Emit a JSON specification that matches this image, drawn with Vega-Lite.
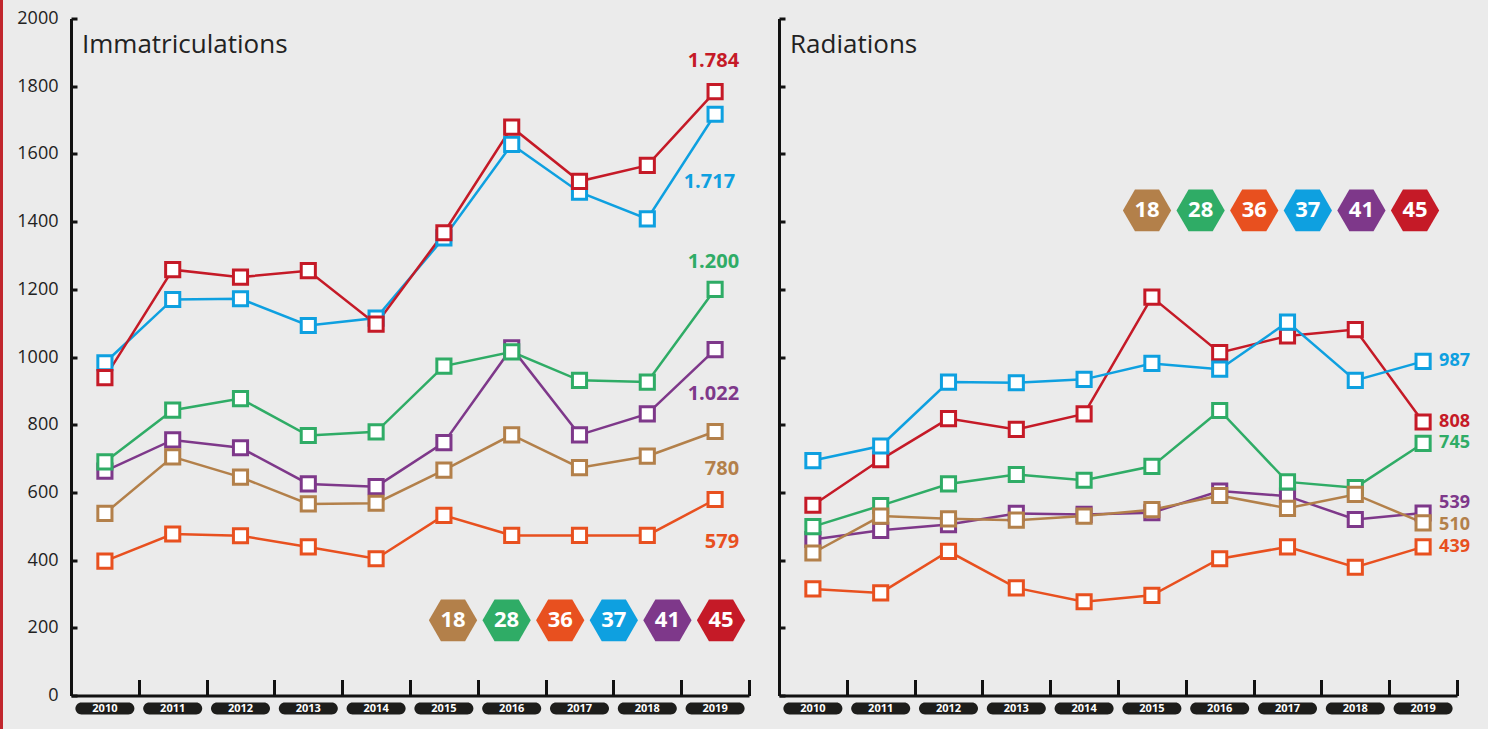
{
  "$schema": "https://vega.github.io/schema/vega-lite/v6.json",
  "background": "#ebebeb",
  "padding": {"left": 0, "top": 0, "right": 24, "bottom": 0},
  "config": {
    "view": {"stroke": null},
    "axis": {"grid": false},
    "locale": {"number": {"decimal": ",", "thousands": ".", "grouping": [3], "currency": ["", " €"]}}
  },
  "datasets": {
    "legend": [{"dept": "18"}, {"dept": "28"}, {"dept": "36"}, {"dept": "37"}, {"dept": "41"}, {"dept": "45"}],
    "rows": [
      {"panel": "I", "dept": "41", "year": "2010", "value": 663}, {"panel": "I", "dept": "41", "year": "2011", "value": 755}, {"panel": "I", "dept": "41", "year": "2012", "value": 732}, {"panel": "I", "dept": "41", "year": "2013", "value": 625}, {"panel": "I", "dept": "41", "year": "2014", "value": 617}, {"panel": "I", "dept": "41", "year": "2015", "value": 747}, {"panel": "I", "dept": "41", "year": "2016", "value": 1027}, {"panel": "I", "dept": "41", "year": "2017", "value": 770}, {"panel": "I", "dept": "41", "year": "2018", "value": 832}, {"panel": "I", "dept": "41", "year": "2019", "value": 1022},
      {"panel": "I", "dept": "28", "year": "2010", "value": 690}, {"panel": "I", "dept": "28", "year": "2011", "value": 843}, {"panel": "I", "dept": "28", "year": "2012", "value": 877}, {"panel": "I", "dept": "28", "year": "2013", "value": 768}, {"panel": "I", "dept": "28", "year": "2014", "value": 779}, {"panel": "I", "dept": "28", "year": "2015", "value": 973}, {"panel": "I", "dept": "28", "year": "2016", "value": 1015}, {"panel": "I", "dept": "28", "year": "2017", "value": 931}, {"panel": "I", "dept": "28", "year": "2018", "value": 926}, {"panel": "I", "dept": "28", "year": "2019", "value": 1200},
      {"panel": "I", "dept": "18", "year": "2010", "value": 538}, {"panel": "I", "dept": "18", "year": "2011", "value": 705}, {"panel": "I", "dept": "18", "year": "2012", "value": 645}, {"panel": "I", "dept": "18", "year": "2013", "value": 566}, {"panel": "I", "dept": "18", "year": "2014", "value": 568}, {"panel": "I", "dept": "18", "year": "2015", "value": 666}, {"panel": "I", "dept": "18", "year": "2016", "value": 770}, {"panel": "I", "dept": "18", "year": "2017", "value": 673}, {"panel": "I", "dept": "18", "year": "2018", "value": 707}, {"panel": "I", "dept": "18", "year": "2019", "value": 780},
      {"panel": "I", "dept": "36", "year": "2010", "value": 397}, {"panel": "I", "dept": "36", "year": "2011", "value": 477}, {"panel": "I", "dept": "36", "year": "2012", "value": 472}, {"panel": "I", "dept": "36", "year": "2013", "value": 439}, {"panel": "I", "dept": "36", "year": "2014", "value": 404}, {"panel": "I", "dept": "36", "year": "2015", "value": 532}, {"panel": "I", "dept": "36", "year": "2016", "value": 473}, {"panel": "I", "dept": "36", "year": "2017", "value": 473}, {"panel": "I", "dept": "36", "year": "2018", "value": 473}, {"panel": "I", "dept": "36", "year": "2019", "value": 579},
      {"panel": "I", "dept": "37", "year": "2010", "value": 983}, {"panel": "I", "dept": "37", "year": "2011", "value": 1170}, {"panel": "I", "dept": "37", "year": "2012", "value": 1172}, {"panel": "I", "dept": "37", "year": "2013", "value": 1093}, {"panel": "I", "dept": "37", "year": "2014", "value": 1115}, {"panel": "I", "dept": "37", "year": "2015", "value": 1352}, {"panel": "I", "dept": "37", "year": "2016", "value": 1628}, {"panel": "I", "dept": "37", "year": "2017", "value": 1487}, {"panel": "I", "dept": "37", "year": "2018", "value": 1408}, {"panel": "I", "dept": "37", "year": "2019", "value": 1717},
      {"panel": "I", "dept": "45", "year": "2010", "value": 939}, {"panel": "I", "dept": "45", "year": "2011", "value": 1258}, {"panel": "I", "dept": "45", "year": "2012", "value": 1236}, {"panel": "I", "dept": "45", "year": "2013", "value": 1255}, {"panel": "I", "dept": "45", "year": "2014", "value": 1097}, {"panel": "I", "dept": "45", "year": "2015", "value": 1367}, {"panel": "I", "dept": "45", "year": "2016", "value": 1679}, {"panel": "I", "dept": "45", "year": "2017", "value": 1519}, {"panel": "I", "dept": "45", "year": "2018", "value": 1566}, {"panel": "I", "dept": "45", "year": "2019", "value": 1784},
      {"panel": "R", "dept": "41", "year": "2010", "value": 461}, {"panel": "R", "dept": "41", "year": "2011", "value": 488}, {"panel": "R", "dept": "41", "year": "2012", "value": 505}, {"panel": "R", "dept": "41", "year": "2013", "value": 538}, {"panel": "R", "dept": "41", "year": "2014", "value": 535}, {"panel": "R", "dept": "41", "year": "2015", "value": 540}, {"panel": "R", "dept": "41", "year": "2016", "value": 604}, {"panel": "R", "dept": "41", "year": "2017", "value": 589}, {"panel": "R", "dept": "41", "year": "2018", "value": 520}, {"panel": "R", "dept": "41", "year": "2019", "value": 539},
      {"panel": "R", "dept": "28", "year": "2010", "value": 499}, {"panel": "R", "dept": "28", "year": "2011", "value": 561}, {"panel": "R", "dept": "28", "year": "2012", "value": 625}, {"panel": "R", "dept": "28", "year": "2013", "value": 653}, {"panel": "R", "dept": "28", "year": "2014", "value": 636}, {"panel": "R", "dept": "28", "year": "2015", "value": 677}, {"panel": "R", "dept": "28", "year": "2016", "value": 842}, {"panel": "R", "dept": "28", "year": "2017", "value": 631}, {"panel": "R", "dept": "28", "year": "2018", "value": 614}, {"panel": "R", "dept": "28", "year": "2019", "value": 745},
      {"panel": "R", "dept": "18", "year": "2010", "value": 421}, {"panel": "R", "dept": "18", "year": "2011", "value": 530}, {"panel": "R", "dept": "18", "year": "2012", "value": 522}, {"panel": "R", "dept": "18", "year": "2013", "value": 518}, {"panel": "R", "dept": "18", "year": "2014", "value": 530}, {"panel": "R", "dept": "18", "year": "2015", "value": 549}, {"panel": "R", "dept": "18", "year": "2016", "value": 591}, {"panel": "R", "dept": "18", "year": "2017", "value": 553}, {"panel": "R", "dept": "18", "year": "2018", "value": 594}, {"panel": "R", "dept": "18", "year": "2019", "value": 510},
      {"panel": "R", "dept": "36", "year": "2010", "value": 315}, {"panel": "R", "dept": "36", "year": "2011", "value": 303}, {"panel": "R", "dept": "36", "year": "2012", "value": 426}, {"panel": "R", "dept": "36", "year": "2013", "value": 318}, {"panel": "R", "dept": "36", "year": "2014", "value": 277}, {"panel": "R", "dept": "36", "year": "2015", "value": 296}, {"panel": "R", "dept": "36", "year": "2016", "value": 404}, {"panel": "R", "dept": "36", "year": "2017", "value": 439}, {"panel": "R", "dept": "36", "year": "2018", "value": 379}, {"panel": "R", "dept": "36", "year": "2019", "value": 439},
      {"panel": "R", "dept": "45", "year": "2010", "value": 562}, {"panel": "R", "dept": "45", "year": "2011", "value": 697}, {"panel": "R", "dept": "45", "year": "2012", "value": 818}, {"panel": "R", "dept": "45", "year": "2013", "value": 786}, {"panel": "R", "dept": "45", "year": "2014", "value": 832}, {"panel": "R", "dept": "45", "year": "2015", "value": 1177}, {"panel": "R", "dept": "45", "year": "2016", "value": 1013}, {"panel": "R", "dept": "45", "year": "2017", "value": 1062}, {"panel": "R", "dept": "45", "year": "2018", "value": 1081}, {"panel": "R", "dept": "45", "year": "2019", "value": 808},
      {"panel": "R", "dept": "37", "year": "2010", "value": 694}, {"panel": "R", "dept": "37", "year": "2011", "value": 737}, {"panel": "R", "dept": "37", "year": "2012", "value": 926}, {"panel": "R", "dept": "37", "year": "2013", "value": 924}, {"panel": "R", "dept": "37", "year": "2014", "value": 934}, {"panel": "R", "dept": "37", "year": "2015", "value": 981}, {"panel": "R", "dept": "37", "year": "2016", "value": 964}, {"panel": "R", "dept": "37", "year": "2017", "value": 1103}, {"panel": "R", "dept": "37", "year": "2018", "value": 931}, {"panel": "R", "dept": "37", "year": "2019", "value": 987}
    ]
  },
  "spacing": 13,
  "center": true,
  "hconcat": [
    {
      "width": 3,
      "height": 733,
      "view": {"fill": "#c1262d", "stroke": null},
      "data": {"values": [{}]},
      "mark": {"type": "rect", "color": "#c1262d"}
    },
    {
      "spacing": 26,
      "hconcat": [
        {
          "width": 678,
          "height": 677,
          "title": {"text": "Immatriculations", "anchor": "start", "frame": "group", "dx": 11, "offset": -48, "fontSize": 26, "font": "Open Sans", "fontWeight": "normal", "color": "#222222"},
          "resolve": {"scale": {"x": "independent"}},
          "layer": [
            {
              "data": {"name": "rows"},
              "transform": [{"filter": "datum.panel === 'I'"}],
              "encoding": {
                "x": {"field": "year", "type": "ordinal", "scale": {"type": "band", "paddingInner": 0, "paddingOuter": 0},
                  "axis": {"title": null, "labels": false, "domainColor": "#111111", "domainWidth": 3, "tickColor": "#111111", "tickWidth": 3, "tickSize": -16, "tickBand": "extent", "grid": false}},
                "y": {"field": "value", "type": "quantitative", "scale": {"domain": [0, 2000], "nice": false, "zero": true},
                  "axis": {"title": null, "values": [0, 200, 400, 600, 800, 1000, 1200, 1400, 1600, 1800, 2000], "format": "d", "domainColor": "#111111", "domainWidth": 3, "tickColor": "#111111", "tickWidth": 3, "tickSize": -6, "labelFont": "Open Sans", "labelFontSize": 18, "labelColor": "#222222", "labelPadding": 19, "grid": false}},
                "color": {"field": "dept", "type": "nominal", "scale": {"domain": ["18", "28", "36", "37", "41", "45"], "range": ["#b3804a", "#2fac66", "#e8501f", "#0ea0e0", "#7e388a", "#c51a27"]}, "legend": null}
              },
              "layer": [
                {"mark": {"type": "line", "strokeWidth": 2.5}},
                {"mark": {"type": "point", "shape": "square", "filled": false, "fill": "white", "fillOpacity": 1, "opacity": 1, "size": 200, "strokeWidth": 3}},
                {
                  "transform": [{"filter": "datum.dept === '18'"}],
                  "mark": {"type": "bar", "cornerRadius": 6, "width": {"band": 0.87}},
                  "encoding": {"y": {"datum": -20.7}, "y2": {"datum": -56.1}, "color": {"value": "#1d1d1b"}}
                },
                {
                  "transform": [{"filter": "datum.dept === '18'"}],
                  "mark": {"type": "text", "font": "Open Sans", "fontWeight": "bold", "fontSize": 11, "baseline": "middle", "align": "center"},
                  "encoding": {"y": {"datum": -38.4}, "text": {"field": "year"}, "color": {"value": "#ffffff"}}
                },
                {
                  "transform": [{"filter": "datum.year === '2019' && datum.dept === '45'"}],
                  "mark": {"type": "text", "font": "Open Sans", "fontWeight": "bold", "fontSize": 20, "align": "right", "baseline": "middle", "dx": 24, "dy": -31},
                  "encoding": {"text": {"field": "value", "type": "quantitative", "format": ",d"}}
                },
                {
                  "transform": [{"filter": "datum.year === '2019' && datum.dept === '37'"}],
                  "mark": {"type": "text", "font": "Open Sans", "fontWeight": "bold", "fontSize": 20, "align": "right", "baseline": "middle", "dx": 20, "dy": 68},
                  "encoding": {"text": {"field": "value", "type": "quantitative", "format": ",d"}}
                },
                {
                  "transform": [{"filter": "datum.year === '2019' && datum.dept === '28'"}],
                  "mark": {"type": "text", "font": "Open Sans", "fontWeight": "bold", "fontSize": 20, "align": "right", "baseline": "middle", "dx": 24, "dy": -27},
                  "encoding": {"text": {"field": "value", "type": "quantitative", "format": ",d"}}
                },
                {
                  "transform": [{"filter": "datum.year === '2019' && datum.dept === '41'"}],
                  "mark": {"type": "text", "font": "Open Sans", "fontWeight": "bold", "fontSize": 20, "align": "right", "baseline": "middle", "dx": 24, "dy": 44},
                  "encoding": {"text": {"field": "value", "type": "quantitative", "format": ",d"}}
                },
                {
                  "transform": [{"filter": "datum.year === '2019' && datum.dept === '18'"}],
                  "mark": {"type": "text", "font": "Open Sans", "fontWeight": "bold", "fontSize": 20, "align": "right", "baseline": "middle", "dx": 24, "dy": 38},
                  "encoding": {"text": {"field": "value", "type": "quantitative", "format": ",d"}}
                },
                {
                  "transform": [{"filter": "datum.year === '2019' && datum.dept === '36'"}],
                  "mark": {"type": "text", "font": "Open Sans", "fontWeight": "bold", "fontSize": 20, "align": "right", "baseline": "middle", "dx": 24, "dy": 42},
                  "encoding": {"text": {"field": "value", "type": "quantitative", "format": ",d"}}
                }
              ]
            },
            {
              "data": {"name": "legend"},
              "transform": [{"window": [{"op": "row_number", "as": "rank"}]}],
              "encoding": {
                "x": {"field": "rank", "type": "quantitative", "scale": {"domain": [-6.127, 6.522], "nice": false, "zero": false}, "axis": null},
                "y": {"datum": 222, "type": "quantitative"}
              },
              "layer": [
                {"mark": {"type": "point", "shape": "M-1,0L-0.5,-0.866L0.5,-0.866L1,0L0.5,0.866L-0.5,0.866Z", "filled": true, "opacity": 1, "size": 2333},
                 "encoding": {"color": {"field": "dept", "type": "nominal", "scale": {"domain": ["18", "28", "36", "37", "41", "45"], "range": ["#b3804a", "#2fac66", "#e8501f", "#0ea0e0", "#7e388a", "#c51a27"]}, "legend": null}}},
                {"mark": {"type": "text", "font": "Open Sans", "fontWeight": "bold", "fontSize": 22, "color": "#ffffff", "align": "center", "baseline": "middle"},
                 "encoding": {"text": {"field": "dept"}}}
              ]
            }
          ]
        },
        {
          "width": 678,
          "height": 677,
          "title": {"text": "Radiations", "anchor": "start", "frame": "group", "dx": 11, "offset": -41, "fontSize": 26, "font": "Open Sans", "fontWeight": "normal", "color": "#222222"},
          "resolve": {"scale": {"x": "independent"}},
          "layer": [
            {
              "data": {"name": "rows"},
              "transform": [{"filter": "datum.panel === 'R'"}],
              "encoding": {
                "x": {"field": "year", "type": "ordinal", "scale": {"type": "band", "paddingInner": 0, "paddingOuter": 0},
                  "axis": {"title": null, "labels": false, "domainColor": "#111111", "domainWidth": 3, "tickColor": "#111111", "tickWidth": 3, "tickSize": -16, "tickBand": "extent", "grid": false}},
                "y": {"field": "value", "type": "quantitative", "scale": {"domain": [0, 2000], "nice": false, "zero": true},
                  "axis": {"title": null, "values": [0, 200, 400, 600, 800, 1000, 1200, 1400, 1600, 1800, 2000], "labels": false, "domainColor": "#111111", "domainWidth": 3, "tickColor": "#111111", "tickWidth": 3, "tickSize": -6, "grid": false}},
                "color": {"field": "dept", "type": "nominal", "scale": {"domain": ["18", "28", "36", "37", "41", "45"], "range": ["#b3804a", "#2fac66", "#e8501f", "#0ea0e0", "#7e388a", "#c51a27"]}, "legend": null}
              },
              "layer": [
                {"mark": {"type": "line", "strokeWidth": 2.5}},
                {"mark": {"type": "point", "shape": "square", "filled": false, "fill": "white", "fillOpacity": 1, "opacity": 1, "size": 200, "strokeWidth": 3}},
                {
                  "transform": [{"filter": "datum.dept === '18'"}],
                  "mark": {"type": "bar", "cornerRadius": 6, "width": {"band": 0.87}},
                  "encoding": {"y": {"datum": -20.7}, "y2": {"datum": -56.1}, "color": {"value": "#1d1d1b"}}
                },
                {
                  "transform": [{"filter": "datum.dept === '18'"}],
                  "mark": {"type": "text", "font": "Open Sans", "fontWeight": "bold", "fontSize": 11, "baseline": "middle", "align": "center"},
                  "encoding": {"y": {"datum": -38.4}, "text": {"field": "year"}, "color": {"value": "#ffffff"}}
                },
                {
                  "transform": [{"filter": "datum.year === '2019' && datum.dept !== '41' && datum.dept !== '18'"}],
                  "mark": {"type": "text", "font": "Open Sans", "fontWeight": "bold", "fontSize": 18, "align": "left", "baseline": "middle", "dx": 16, "dy": 0},
                  "encoding": {"text": {"field": "value", "type": "quantitative", "format": ",d"}}
                },
                {
                  "transform": [{"filter": "datum.year === '2019' && datum.dept === '18'"}],
                  "mark": {"type": "text", "font": "Open Sans", "fontWeight": "bold", "fontSize": 18, "align": "left", "baseline": "middle", "dx": 16, "dy": 2},
                  "encoding": {"text": {"field": "value", "type": "quantitative", "format": ",d"}}
                },
                {
                  "transform": [{"filter": "datum.year === '2019' && datum.dept === '41'"}],
                  "mark": {"type": "text", "font": "Open Sans", "fontWeight": "bold", "fontSize": 18, "align": "left", "baseline": "middle", "dx": 16, "dy": -10},
                  "encoding": {"text": {"field": "value", "type": "quantitative", "format": ",d"}}
                }
              ]
            },
            {
              "data": {"name": "legend"},
              "transform": [{"window": [{"op": "row_number", "as": "rank"}]}],
              "encoding": {
                "x": {"field": "rank", "type": "quantitative", "scale": {"domain": [-5.866, 6.783], "nice": false, "zero": false}, "axis": null},
                "y": {"datum": 1433, "type": "quantitative"}
              },
              "layer": [
                {"mark": {"type": "point", "shape": "M-1,0L-0.5,-0.866L0.5,-0.866L1,0L0.5,0.866L-0.5,0.866Z", "filled": true, "opacity": 1, "size": 2333},
                 "encoding": {"color": {"field": "dept", "type": "nominal", "scale": {"domain": ["18", "28", "36", "37", "41", "45"], "range": ["#b3804a", "#2fac66", "#e8501f", "#0ea0e0", "#7e388a", "#c51a27"]}, "legend": null}}},
                {"mark": {"type": "text", "font": "Open Sans", "fontWeight": "bold", "fontSize": 22, "color": "#ffffff", "align": "center", "baseline": "middle"},
                 "encoding": {"text": {"field": "dept"}}}
              ]
            }
          ]
        }
      ]
    }
  ]
}
